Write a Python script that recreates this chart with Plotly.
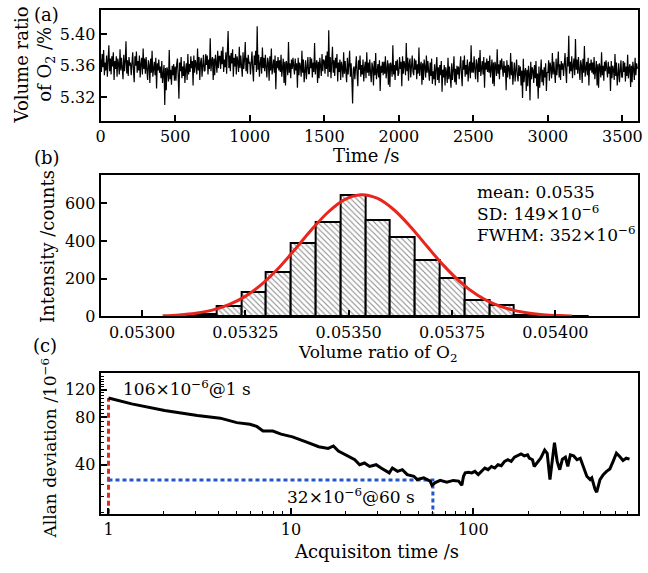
import plotly.graph_objects as go

W, H = 648, 573
def px(x): return x / W
def py(y): return 1 - y / H

# ---------------- (a) O2 time series (every 5 s)
time_s = list(range(0, 3601, 5))
o2_percent = [
 5.368,5.352,5.375,5.358,5.380,5.348,5.364,5.354,5.373,5.346,5.367,5.386,5.353,5.369,5.349,5.372,5.359,5.377,5.342,5.366,
 5.356,5.372,5.346,5.369,5.362,5.349,5.381,5.354,5.370,5.359,5.343,5.374,5.353,5.365,5.391,5.350,5.367,5.347,5.371,5.360,
 5.364,5.348,5.368,5.377,5.355,5.339,5.372,5.360,5.378,5.351,5.366,5.354,5.373,5.345,5.362,5.370,5.349,5.382,5.356,5.369,
 5.350,5.371,5.355,5.342,5.367,5.361,5.338,5.369,5.351,5.379,5.346,5.359,5.365,5.348,5.370,5.331,5.363,5.354,5.368,5.351,
 5.359,5.344,5.366,5.338,5.352,5.361,5.310,5.357,5.329,5.358,5.353,5.340,5.380,5.343,5.355,5.336,5.360,5.348,5.362,5.341,
 5.359,5.341,5.362,5.369,5.348,5.318,5.364,5.353,5.371,5.344,5.359,5.347,5.366,5.338,5.355,5.363,5.342,5.375,5.349,5.362,
 5.352,5.372,5.357,5.366,5.335,5.373,5.351,5.367,5.362,5.349,5.382,5.354,5.371,5.342,5.364,5.370,5.346,5.358,5.374,5.353,
 5.354,5.375,5.361,5.373,5.349,5.368,5.356,5.395,5.353,5.366,5.371,5.342,5.369,5.348,5.374,5.364,5.351,5.379,5.357,5.372,
 5.372,5.356,5.379,5.362,5.384,5.352,5.368,5.358,5.377,5.350,5.371,5.404,5.357,5.373,5.353,5.376,5.363,5.381,5.346,5.370,
 5.359,5.375,5.349,5.372,5.365,5.352,5.384,5.357,5.373,5.362,5.346,5.377,5.356,5.368,5.390,5.353,5.370,5.350,5.374,5.363,
 5.365,5.349,5.369,5.378,5.356,5.340,5.373,5.361,5.379,5.352,5.410,5.355,5.374,5.346,5.363,5.371,5.350,5.383,5.357,5.370,
 5.353,5.374,5.358,5.345,5.370,5.364,5.341,5.372,5.354,5.382,5.349,5.362,5.368,5.351,5.373,5.330,5.366,5.357,5.371,5.354,
 5.367,5.352,5.374,5.346,5.360,5.369,5.338,5.365,5.335,5.366,5.361,5.348,5.390,5.351,5.363,5.344,5.368,5.356,5.370,5.349,
 5.349,5.369,5.354,5.363,5.332,5.370,5.348,5.364,5.359,5.346,5.379,5.351,5.368,5.339,5.361,5.367,5.343,5.355,5.371,5.350,
 5.350,5.371,5.357,5.369,5.345,5.364,5.352,5.389,5.349,5.362,5.367,5.338,5.365,5.344,5.370,5.360,5.347,5.375,5.353,5.368,
 5.366,5.350,5.373,5.356,5.378,5.346,5.405,5.352,5.371,5.344,5.365,5.384,5.351,5.367,5.347,5.370,5.357,5.375,5.340,5.364,
 5.352,5.368,5.342,5.365,5.358,5.345,5.377,5.350,5.366,5.355,5.339,5.370,5.349,5.361,5.379,5.346,5.363,5.343,5.312,5.356,
 5.359,5.343,5.363,5.372,5.350,5.334,5.367,5.355,5.373,5.346,5.361,5.349,5.368,5.340,5.357,5.365,5.344,5.377,5.351,5.364,
 5.347,5.368,5.352,5.339,5.364,5.358,5.335,5.366,5.348,5.376,5.343,5.356,5.362,5.345,5.367,5.328,5.360,5.351,5.365,5.348,
 5.365,5.350,5.372,5.344,5.358,5.367,5.336,5.363,5.333,5.364,5.359,5.346,5.386,5.349,5.361,5.342,5.366,5.354,5.368,5.347,
 5.351,5.371,5.356,5.365,5.334,5.372,5.350,5.366,5.361,5.348,5.389,5.353,5.370,5.341,5.363,5.369,5.345,5.357,5.373,5.352,
 5.348,5.369,5.355,5.367,5.343,5.362,5.350,5.383,5.347,5.360,5.365,5.336,5.363,5.342,5.368,5.358,5.345,5.373,5.351,5.366,
 5.357,5.341,5.364,5.347,5.369,5.337,5.353,5.343,5.362,5.335,5.356,5.371,5.342,5.358,5.338,5.361,5.348,5.366,5.327,5.355,
 5.345,5.361,5.335,5.358,5.351,5.338,5.370,5.343,5.359,5.348,5.332,5.363,5.342,5.354,5.372,5.339,5.356,5.336,5.360,5.349,
 5.359,5.343,5.363,5.372,5.350,5.334,5.367,5.355,5.373,5.346,5.361,5.349,5.368,5.340,5.357,5.365,5.344,5.386,5.351,5.364,
 5.351,5.372,5.356,5.343,5.368,5.362,5.339,5.370,5.352,5.380,5.347,5.360,5.366,5.349,5.371,5.332,5.364,5.355,5.369,5.352,
 5.366,5.351,5.373,5.345,5.359,5.368,5.337,5.364,5.334,5.365,5.360,5.347,5.381,5.350,5.362,5.343,5.367,5.355,5.369,5.348,
 5.346,5.366,5.351,5.360,5.329,5.367,5.345,5.361,5.356,5.343,5.376,5.348,5.365,5.336,5.358,5.364,5.340,5.352,5.368,5.347,
 5.340,5.361,5.347,5.359,5.335,5.354,5.319,5.369,5.339,5.352,5.357,5.328,5.355,5.334,5.360,5.350,5.316,5.365,5.343,5.358,
 5.354,5.338,5.361,5.344,5.366,5.334,5.350,5.318,5.359,5.332,5.353,5.368,5.339,5.355,5.335,5.358,5.345,5.363,5.328,5.352,
 5.351,5.367,5.341,5.364,5.357,5.344,5.376,5.349,5.365,5.354,5.338,5.369,5.348,5.360,5.378,5.345,5.362,5.342,5.366,5.355,
 5.363,5.347,5.367,5.376,5.354,5.338,5.371,5.359,5.398,5.350,5.365,5.353,5.372,5.344,5.361,5.369,5.348,5.394,5.355,5.368,
 5.350,5.371,5.355,5.342,5.367,5.361,5.338,5.369,5.351,5.385,5.346,5.359,5.365,5.348,5.370,5.335,5.363,5.354,5.368,5.351,
 5.364,5.349,5.371,5.343,5.357,5.366,5.335,5.362,5.332,5.363,5.358,5.345,5.377,5.348,5.360,5.341,5.365,5.353,5.367,5.346,
 5.345,5.365,5.350,5.359,5.328,5.366,5.344,5.360,5.355,5.342,5.375,5.347,5.364,5.335,5.357,5.363,5.339,5.351,5.367,5.346,
 5.345,5.366,5.352,5.364,5.340,5.359,5.347,5.374,5.344,5.357,5.362,5.333,5.360,5.339,5.365,5.355,5.342,5.370,5.348,5.363,
 5.356]
a_xticks = [0, 500, 1000, 1500, 2000, 2500, 3000, 3500]
a_yticks = [5.32, 5.36, 5.40]

# ---------------- (b) histogram of volume ratio
hist_left = [0.05306, 0.05312, 0.05318, 0.05324, 0.05330, 0.05336, 0.05342, 0.05348, 0.05354,
             0.05360, 0.05366, 0.05372, 0.05378, 0.05384, 0.05390, 0.05396, 0.05402]
hist_counts = [1, 15, 55, 128, 234, 390, 500, 645, 512, 422, 300, 203, 88, 62, 8, 3, 2]
bin_width = 0.00006
fit_x = [0.05305, 0.05309, 0.05313, 0.05317, 0.05321, 0.05325, 0.05329, 0.05333, 0.05337, 0.05341,
         0.05345, 0.05349, 0.05353, 0.05357, 0.05361, 0.05365, 0.05369, 0.05373, 0.05377, 0.05381,
         0.05385, 0.05389, 0.05393, 0.05397, 0.05401, 0.05404]
fit_y = [3, 8, 17, 33, 62, 106, 171, 255, 355, 459, 552, 619, 645, 625, 564, 474, 370, 269, 182, 115,
         67, 37, 19, 9, 4, 2]
b_xticks = [0.05300, 0.05325, 0.05350, 0.05375, 0.05400]
b_yticks = [0, 200, 400, 600]
stats_lines = ["mean: 0.0535", "SD: 149×10<sup>−6</sup>", "FWHM: 352×10<sup>−6</sup>"]

# ---------------- (c) Allan deviation
tau_s = [1, 1.34, 2.03, 3.07, 4.1, 5.05, 5.96, 6.5, 7.03, 7.96, 8.83, 10.2, 12.0, 14.2, 16.0, 17.1, 18.2,
         20.6, 22.4, 23.8, 25.3, 27, 29.3, 31.2, 32.5, 34.6, 36, 38.4, 40.8, 43.4, 47.2, 49.2, 53.5,
         58, 59.3, 61.8, 65.8, 71.5, 77.6, 83, 86.5, 88.3, 90.2, 94, 98, 102, 106.4, 110.9, 115.6,
         120.5, 125.6, 131, 136.5, 142.3, 148.3, 154.6, 161.2, 168, 175.1, 182.5, 190.3, 198.4, 202.5,
         211, 215.5, 224.6, 234, 246, 254, 263, 270.6, 278.4, 288, 297.6, 307.7, 319.6, 329.4, 340.3,
         354.6, 370, 385.6, 402, 418.8, 436.6, 445.9, 464.8, 474.4, 494.5, 515.4, 537.3, 560, 583.7,
         608.4, 634.2, 661, 688.9, 718]
adev = [106, 97.3, 88.3, 82.1, 79, 74, 72.2, 70, 65.5, 65.5, 62.5, 60.1, 56, 52, 50.8, 52.6, 48.9,
        45.1, 43, 40, 41, 39, 40, 38.1, 37.2, 35.5, 38.1, 36.3, 37.2, 34.6, 33.8, 32.2, 33,
        31.5, 29.6, 30.8, 31.8, 31, 31.8, 31.5, 29.6, 33.8, 35.5, 35.8, 35.5, 36.3, 34.6, 36.3, 38.1,
        37.2, 39, 38.1, 40, 39.4, 42, 43, 42, 44.7, 45.5, 46.8, 45.5, 46.2, 44,
        43, 39, 41.4, 44, 49.6, 47.3, 32.2, 43, 55.2, 42, 37.2, 43.4, 44.7, 39, 46.2,
        45.5, 43, 44, 39, 33.8, 32.2, 33, 27.9, 26.8, 32.2, 34.6, 36.3, 37.6, 42,
        47.3, 45.1, 42.6, 44, 43.4]
mark_tau = [1, 60]
mark_adev = [106, 32]
c_xticks = [1, 10, 100]
c_xminor = [2, 3, 4, 5, 6, 7, 8, 9, 20, 30, 40, 50, 60, 70, 80, 90, 200, 300, 400, 500, 600, 700]
c_yticks = [40, 80, 120]
c_yminor = [20, 25, 30, 35, 45, 50, 55, 60, 65, 70, 75, 85, 90, 95, 100, 105, 110, 115, 125, 130, 135, 140, 145, 150]
c_ybottom = 19.5

FONT = "DejaVu Serif"
RED = "#e8261e"
BLUE = "#2456d0"

fig = go.Figure()
fig.add_trace(go.Scatter(x=time_s, y=o2_percent, mode="lines",
                         line=dict(color="black", width=1.2), xaxis="x", yaxis="y"))

centers = [l + bin_width / 2 for l in hist_left]
fig.add_trace(go.Bar(x=centers, y=hist_counts, width=bin_width,
                     marker=dict(color="white", line=dict(color="black", width=2),
                                 pattern=dict(shape="\\", fgcolor="#1a1a1a", bgcolor="white",
                                              size=4, solidity=0.28)),
                     xaxis="x2", yaxis="y2"))
fig.add_trace(go.Scatter(x=fit_x, y=fit_y, mode="lines",
                         line=dict(color=RED, width=3, shape="spline"), xaxis="x2", yaxis="y2"))

fig.add_trace(go.Scatter(x=[mark_tau[0], mark_tau[0]], y=[c_ybottom, mark_adev[0]], mode="lines",
                         line=dict(color=RED, width=3, dash="5px,3px"), xaxis="x3", yaxis="y3"))
fig.add_trace(go.Scatter(x=[mark_tau[0], mark_tau[1], mark_tau[1]],
                         y=[mark_adev[1], mark_adev[1], c_ybottom], mode="lines",
                         line=dict(color=BLUE, width=3, dash="4px,3px"), xaxis="x3", yaxis="y3"))
fig.add_trace(go.Scatter(x=tau_s, y=adev, mode="lines",
                         line=dict(color="black", width=3), xaxis="x3", yaxis="y3"))

common = dict(showline=True, linecolor="black", linewidth=2, mirror=True, ticks="inside",
              ticklen=6, tickwidth=1.5, tickcolor="black", showgrid=False, zeroline=False,
              ticklabeloverflow="allow",
              tickfont=dict(family=FONT, size=16, color="black"))
xdom = [px(97), px(642)]

fig.update_layout(
    width=W, height=H, margin=dict(l=0, r=0, t=0, b=0),
    paper_bgcolor="white", plot_bgcolor="white", showlegend=False, bargap=0,
    font=dict(family=FONT, size=17, color="black"),
    xaxis=dict(common, domain=xdom, anchor="y", range=[0, 3605], tickvals=a_xticks),
    yaxis=dict(common, domain=[py(123), py(10)], anchor="x", range=[5.29, 5.431],
               tickvals=a_yticks, tickformat=".2f"),
    xaxis2=dict(common, domain=xdom, anchor="y2", range=[0.0529, 0.0542],
                tickvals=b_xticks, tickformat=".5f"),
    yaxis2=dict(common, domain=[py(322), py(178)], anchor="x2", range=[0, 750], tickvals=b_yticks),
    xaxis3=dict(common, domain=xdom, anchor="y3", type="log", range=[-0.043, 2.903],
                tickvals=c_xticks, ticktext=["1", "10", "100"],
                minor=dict(tickvals=c_xminor, ticks="inside", ticklen=3, tickwidth=1.2, tickcolor="black")),
    yaxis3=dict(common, domain=[py(523), py(380)], anchor="x3", type="log",
                range=[1.29, 2.182], tickvals=c_yticks, ticktext=["40", "80", "120"],
                minor=dict(tickvals=c_yminor, ticks="inside", ticklen=3, tickwidth=1.2, tickcolor="black")),
)

def ann(text, x, y, size=18, angle=0, xanchor="center"):
    fig.add_annotation(text=text, x=px(x), y=py(y), xref="paper", yref="paper", showarrow=False,
                       textangle=angle, xanchor=xanchor, yanchor="middle",
                       font=dict(family=FONT, size=size, color="black"))

ann("Time /s", 367, 158)
ann("Volume ratio of O<sub>2</sub>", 378, 360, size=17)
ann("Acquisiton time /s", 377, 561)
ann("Volume ratio<br>of O<sub>2</sub> /%", 30, 66, angle=-90)
ann("Intensity /counts", 43, 251, angle=-90)
ann("Allan deviation /10<sup>−6</sup>", 45, 456, size=17, angle=-90)
ann("(a)", 42, 15)
ann("(b)", 43, 160)
ann("(c)", 41, 352)
for i, s in enumerate(stats_lines):
    ann(s, 477, 195 + i * 21.5, size=17, xanchor="left")
ann("106×10<sup>−6</sup>@1 s", 118, 395, size=17, xanchor="left")
ann("32×10<sup>−6</sup>@60 s", 418, 505, size=17, xanchor="right")

fig.write_html("out.html", config={"displayModeBar": False},
               post_script="document.body.style.margin='0';")
